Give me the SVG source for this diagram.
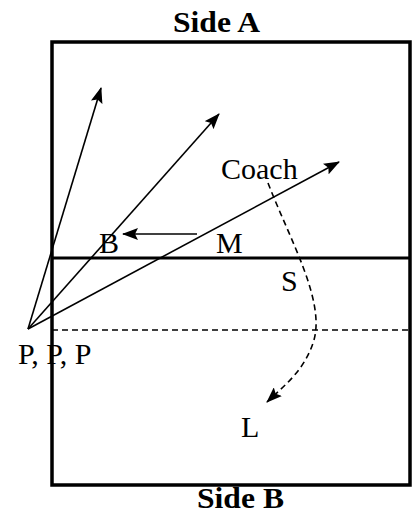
<svg xmlns="http://www.w3.org/2000/svg" width="413" height="515" viewBox="0 0 413 515">
<style>
text{font-family:"Liberation Serif","Times New Roman",serif;fill:#000}
.t{font-size:30px}
.h{font-size:30px;font-weight:bold}
.a{fill:none;stroke:#000;stroke-width:1.6}
.d{fill:none;stroke:#000;stroke-width:1.6;stroke-dasharray:6 4}
</style>
<defs>
<marker id="ah" markerUnits="userSpaceOnUse" markerWidth="16" markerHeight="12" viewBox="0 0 16 12" refX="15" refY="6" orient="auto">
<path d="M0,0 L16,6 L0,12 L3,6 Z" fill="#000"/>
</marker>
</defs>
<g id="court">
<rect x="52" y="42" width="358" height="443" fill="none" stroke="#000" stroke-width="3.5"/>
<line x1="52" y1="258" x2="410" y2="258" stroke="#000" stroke-width="3"/>
<line x1="52" y1="330" x2="410" y2="330" class="d"/>
</g>
<g id="labels">
<text class="h" x="173" y="32" textLength="87" lengthAdjust="spacingAndGlyphs">Side A</text>
<text class="h" x="197" y="508" textLength="87" lengthAdjust="spacingAndGlyphs">Side B</text>
<text id="coach" class="t" x="221" y="179">Coach</text>
<text id="B" class="t" x="99" y="253">B</text>
<text id="M" class="t" x="216" y="253">M</text>
<text id="S" class="t" x="281" y="291">S</text>
<text id="P" class="t" x="18" y="364">P, P, P</text>
<text id="L" class="t" x="241" y="437">L</text>
</g>
<g id="connectors">
<line class="a" x1="28" y1="329" x2="101" y2="88" marker-end="url(#ah)"/>
<line class="a" x1="28" y1="329" x2="219" y2="114" marker-end="url(#ah)"/>
<line class="a" x1="28" y1="329" x2="339" y2="162" marker-end="url(#ah)"/>
<line class="a" x1="197" y1="234" x2="123" y2="234" marker-end="url(#ah)"/>
<path class="d" d="M268 183 C290 240 325 300 314 340 C305 370 285 385 267 402" marker-end="url(#ah)"/>
</g>
</svg>
